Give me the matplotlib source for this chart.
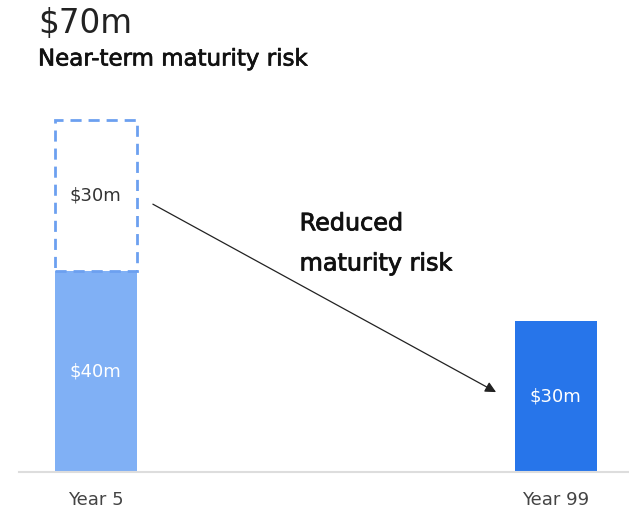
import matplotlib
matplotlib.use("Agg")
import matplotlib.pyplot as plt
import matplotlib.patheffects as pe

categories = ["Year 5", "Year 99"]
base_values = [40, 30]
extra_values = [30, 0]
title = "$70m"
subtitle = "Near-term maturity risk"
arrow_text = "Reduced\nmaturity risk"

plt.rcParams['font.family'] = ['DejaVu Sans']

fig = plt.figure(figsize=(6.29, 5.13), dpi=100)
W, H = 629, 513
ax = fig.add_axes([19 / W, 41 / H, 610 / W, 402 / H])
x = [0, 1]
width = 0.178
ax.bar(x, base_values, width=width, color=["#80B0F5", "#2775EA"], zorder=2)
ax.bar(x[0], extra_values[0], bottom=base_values[0], width=width, fill=False,
       edgecolor="#6CA0F0", linestyle=(0, (4, 2.5)), linewidth=2, zorder=3)
ax.set_xlim(-0.167, 1.159)
ax.set_ylim(0, 80)

for xi, v in zip(x, base_values):
    ax.text(xi, v / 2, f"${v}m", ha="center", va="center", color="white", fontsize=13)
ax.text(x[0], base_values[0] + extra_values[0] / 2, f"${extra_values[0]}m", ha="center",
        va="center", color="#333333", fontsize=13)

ax.annotate("", xy=(0.870, 15.9), xytext=(0.124, 53.3),
            arrowprops=dict(arrowstyle="-|>", color="#222222", lw=0.9,
                            mutation_scale=16, shrinkA=0, shrinkB=0))
medium = [pe.withStroke(linewidth=0.6, foreground="#111111")]
ax.text(0.443, 45.5, arrow_text, ha="left", va="center", fontsize=17.2,
        color="#111111", linespacing=1.85, path_effects=medium)

for s in ["top", "right", "left"]:
    ax.spines[s].set_visible(False)
ax.spines["bottom"].set_color("#DDDDDD")
ax.spines["bottom"].set_linewidth(1.5)
ax.set_yticks([])
ax.set_xticks(x)
ax.set_xticklabels(categories, fontsize=13, color="#444444")
ax.tick_params(axis="x", length=0, pad=14)

fig.text(38 / W, 1 - 24 / H, title, fontsize=23.5, color="#222222", va="center", ha="left")
fig.text(38 / W, 1 - 59 / H, subtitle, fontsize=16.5, color="#111111", va="center", ha="left",
         path_effects=[pe.withStroke(linewidth=0.5, foreground="#111111")])

fig.savefig("out.png", dpi=100)
